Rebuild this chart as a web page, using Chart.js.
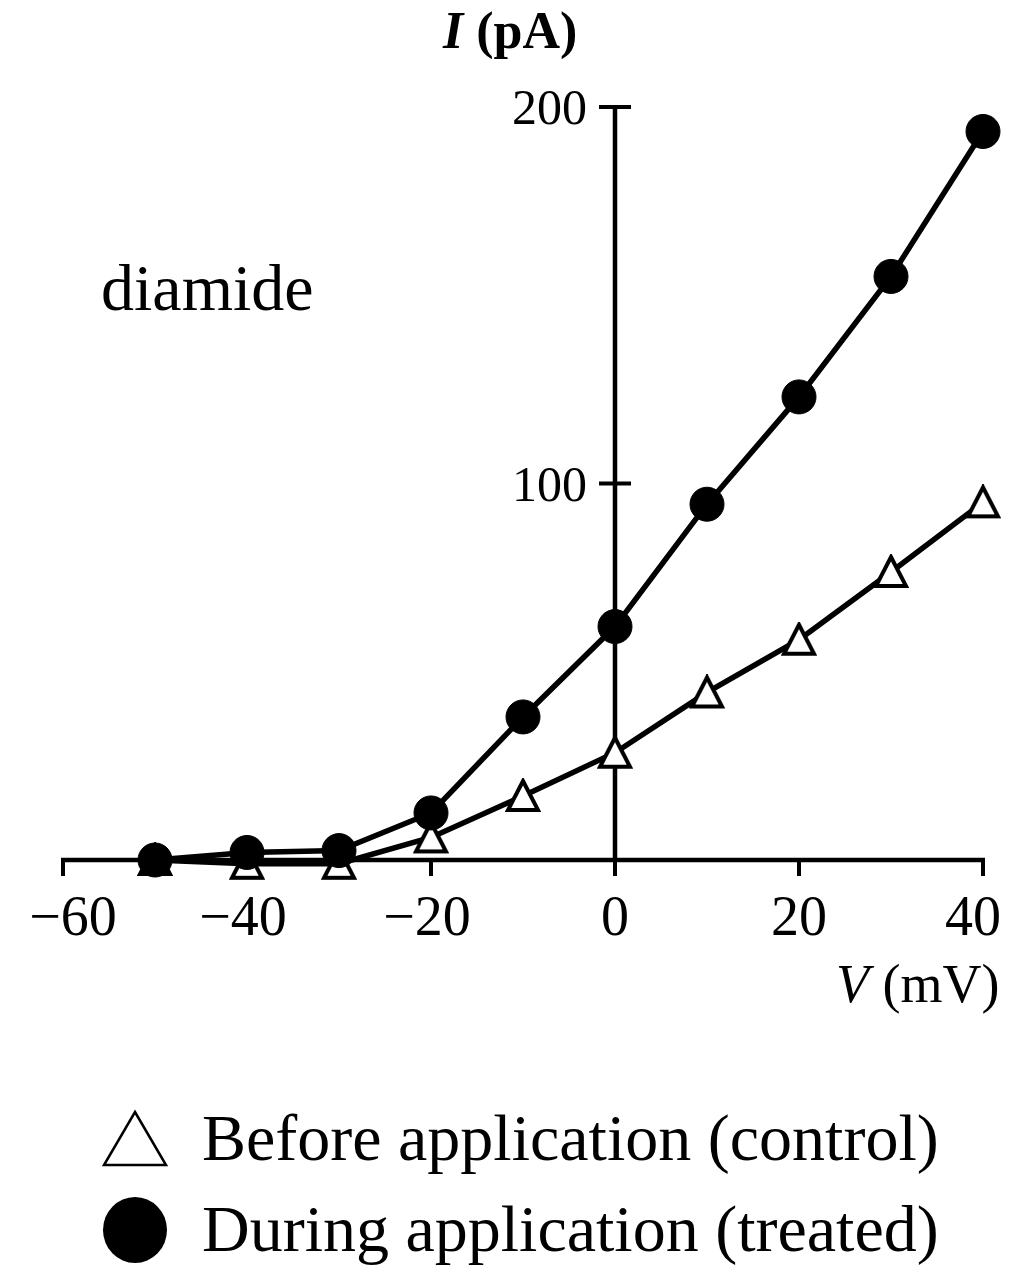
<!DOCTYPE html>
<html>
<head>
<meta charset="utf-8">
<script src="https://cdn.jsdelivr.net/npm/chart.js@4"></script>
<style>
  html, body { margin: 0; padding: 0; background: #fff; }
  #wrap { position: relative; width: 1018px; height: 1268px; overflow: hidden; }
  #c { position: absolute; left: 0; top: 0; }
  .t { position: absolute; font-family: "Liberation Serif", "Times New Roman", serif; color: #000; line-height: 1; white-space: nowrap; }
</style>
</head>
<body>
<div id="wrap">
  <canvas id="c" width="1018" height="1268"></canvas>
  <div class="t" style="left:443px; top:5px; font-size:52px; font-weight:bold;"><i>I</i>&nbsp;(pA)</div>
  <div class="t" style="left:836px; top:957px; font-size:54px;"><i>V</i>&nbsp;(mV)</div>
  <div class="t" style="left:101px; top:255px; font-size:66px;">diamide</div>
  <svg style="position:absolute; left:100px; top:1108px;" width="72" height="62">
    <polygon points="35,4 66,57 4,57" fill="#fff" stroke="#000" stroke-width="2.5"/>
  </svg>
  <svg style="position:absolute; left:100px; top:1194px;" width="72" height="72">
    <ellipse cx="35" cy="36" rx="32" ry="33" fill="#000"/>
  </svg>
  <div class="t" style="left:202px; top:1105px; font-size:66px;">Before application (control)</div>
  <div class="t" style="left:202px; top:1196px; font-size:66px;">During application (treated)</div>
</div>
<script>
// ---- data ----
const voltages = [-50, -40, -30, -20, -10, 0, 10, 20, 30, 40];
const controlCurrent = [0, -1, -1, 6, 17, 28.5, 44.5, 58.5, 76.5, 95];
const treatedCurrent = [0, 2, 2.5, 12.5, 38, 62, 94.5, 123, 155, 193.5];
const xTicks = [-60, -40, -20, 0, 20, 40];
const yTicks = [100, 200];
const xRange = [-60, 40];
const yRange = [0, 200];
const seriesNames = ['During application (treated)', 'Before application (control)'];

// custom open triangle marker
function makeTriangle() {
  const c = document.createElement('canvas');
  c.width = 36; c.height = 36;
  const g = c.getContext('2d');
  g.lineWidth = 4;
  g.lineJoin = 'miter';
  g.beginPath();
  g.moveTo(18, 3);
  g.lineTo(33, 32);
  g.lineTo(3, 32);
  g.closePath();
  g.fillStyle = '#fff';
  g.fill();
  g.strokeStyle = '#000';
  g.stroke();
  return c;
}
const triangle = makeTriangle();

const axesPlugin = {
  id: 'crossAxes',
  beforeDatasetsDraw(chart) {
    const { ctx, scales: { x, y } } = chart;
    const x0 = x.getPixelForValue(0);
    const y0 = y.getPixelForValue(0);
    const xl = x.getPixelForValue(xRange[0]);
    const xr = x.getPixelForValue(xRange[1]);
    const yt = y.getPixelForValue(yRange[1]);
    ctx.save();
    ctx.strokeStyle = '#000';
    ctx.fillStyle = '#000';
    ctx.lineWidth = 4.5;
    ctx.lineCap = 'butt';
    // x axis
    ctx.beginPath();
    ctx.moveTo(xl - 2, y0);
    ctx.lineTo(xr + 2, y0);
    ctx.stroke();
    ctx.lineWidth = 4;
    xTicks.forEach(v => {
      const px = x.getPixelForValue(v);
      ctx.beginPath();
      ctx.moveTo(px, y0);
      ctx.lineTo(px, y0 + 16);
      ctx.stroke();
    });
    // y axis
    ctx.lineWidth = 4.5;
    ctx.beginPath();
    ctx.moveTo(x0, y0);
    ctx.lineTo(x0, yt - 2);
    ctx.stroke();
    ctx.lineWidth = 4;
    yTicks.forEach(v => {
      const py = y.getPixelForValue(v);
      ctx.beginPath();
      ctx.moveTo(x0 - 16, py);
      ctx.lineTo(x0 + 16, py);
      ctx.stroke();
    });
    // tick labels
    ctx.font = '56px "Liberation Serif", serif';
    ctx.textAlign = 'center';
    ctx.textBaseline = 'alphabetic';
    xTicks.forEach((v, i) => {
      const px = x.getPixelForValue(v);
      const s = v < 0 ? '\u2212' + Math.abs(v) : String(v);
      let dx = v < 0 ? -4 : 0;
      if (i === 0) dx = 10;
      if (i === xTicks.length - 1) dx = -10;
      ctx.fillText(s, px + dx, y0 + 75);
    });
    ctx.font = '50px "Liberation Serif", serif';
    ctx.textAlign = 'right';
    yTicks.forEach(v => {
      const py = y.getPixelForValue(v);
      ctx.fillText(String(v), x0 - 28, py + 17);
    });
    ctx.restore();
  }
};

new Chart(document.getElementById('c'), {
  type: 'line',
  data: {
    labels: voltages,
    datasets: [
      {
        label: seriesNames[0],
        data: voltages.map((v, i) => ({ x: v, y: treatedCurrent[i] })),
        borderColor: '#000',
        backgroundColor: '#000',
        borderWidth: 5.5,
        pointStyle: 'circle',
        pointRadius: 17,
        pointBorderWidth: 1,
        pointBackgroundColor: '#000',
        pointBorderColor: '#000',
        tension: 0,
        clip: false
      },
      {
        label: seriesNames[1],
        data: voltages.map((v, i) => ({ x: v, y: controlCurrent[i] })),
        borderColor: '#000',
        backgroundColor: '#fff',
        borderWidth: 5.5,
        pointStyle: triangle,
        pointRadius: 17,
        tension: 0,
        clip: false
      }
    ]
  },
  options: {
    responsive: false,
    devicePixelRatio: 1,
    animation: false,
    layout: { padding: { left: 63, right: 35, top: 107, bottom: 408 } },
    plugins: { legend: { display: false }, tooltip: { enabled: false } },
    scales: {
      x: { type: 'linear', min: xRange[0], max: xRange[1], display: false },
      y: { type: 'linear', min: yRange[0], max: yRange[1], display: false }
    }
  },
  plugins: [axesPlugin]
});
</script>
</body>
</html>
